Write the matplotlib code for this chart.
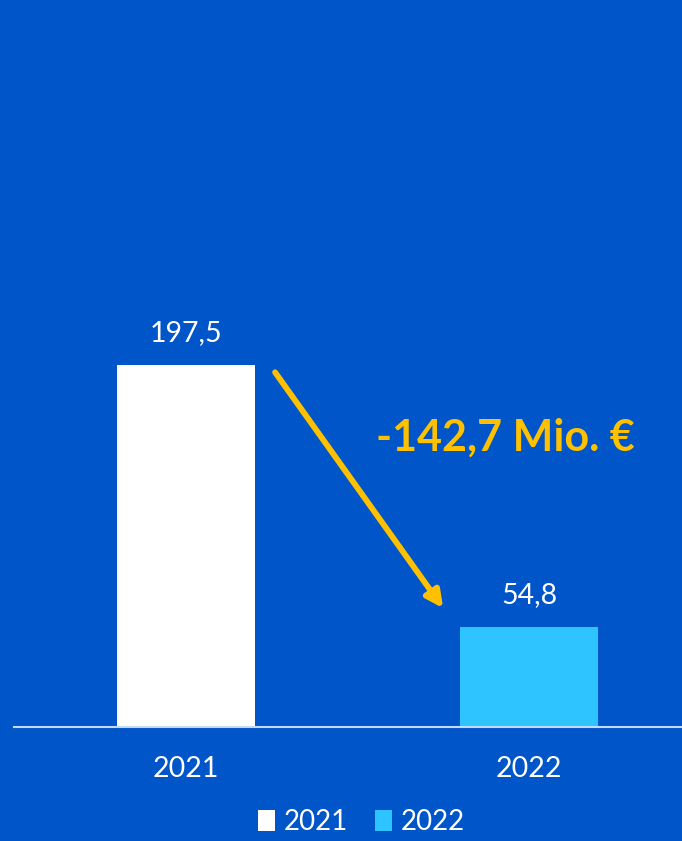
import matplotlib.pyplot as plt
from matplotlib.patches import Patch

jahre = ["2021", "2022"]
werte = [197.5, 54.8]
farben = ["#FFFFFF", "#2EC4FF"]

bg = "#0055C8"
gelb = "#FFC000"

plt.rcParams['font.family'] = ['Lato', 'DejaVu Sans']

fig = plt.figure(figsize=(6.82, 8.41), dpi=100, facecolor=bg)
ax = fig.add_axes([14 / 682, 1 - 727 / 841, 1 - 14 / 682, 727 / 841])
ax.set_facecolor(bg)

x = list(range(len(jahre)))
ax.bar(x, werte, width=0.40, color=farben, zorder=2)

ax.set_xlim(-0.501, 1.446)
ax.set_ylim(0, 396.6)

for s in ["top", "right", "left"]:
    ax.spines[s].set_visible(False)
ax.spines["bottom"].set_color("#C5DAF2")
ax.spines["bottom"].set_linewidth(1.5)
ax.set_yticks([])
ax.set_xticks(x)
ax.set_xticklabels(jahre, color="white", fontsize=20.5)
ax.tick_params(axis="x", length=0, pad=21)

def fmt(v):
    return ("%.1f" % v).replace(".", ",")

for xi, v in zip(x, werte):
    ax.annotate(fmt(v), (xi, v), xytext=(0, 23), textcoords="offset points",
                ha="center", va="center", color="white", fontsize=20.5)

# Pfeil von Balken 1 zu Balken 2
ax.annotate("", xy=(0.75, werte[1] + 10), xytext=(0.26, werte[0] - 4),
            arrowprops=dict(arrowstyle="-|>,head_length=1.0,head_width=0.5",
                            color=gelb, lw=4.2, shrinkA=0, shrinkB=0))

diff = werte[1] - werte[0]
ax.text(0.93, 157.7, fmt(diff) + " Mio. €", ha="center", va="center",
        color=gelb, fontsize=31, fontweight="bold")

handles = [Patch(facecolor=c, edgecolor="none") for c in farben]
fig.legend(handles, jahre, loc="center", bbox_to_anchor=(0.53, 1 - 822 / 841),
           ncol=2, frameon=False, fontsize=20, labelcolor="white",
           handlelength=0.6, handleheight=0.8, handletextpad=0.3,
           columnspacing=1.0)

fig.savefig("out.png", dpi=100, facecolor=bg)
